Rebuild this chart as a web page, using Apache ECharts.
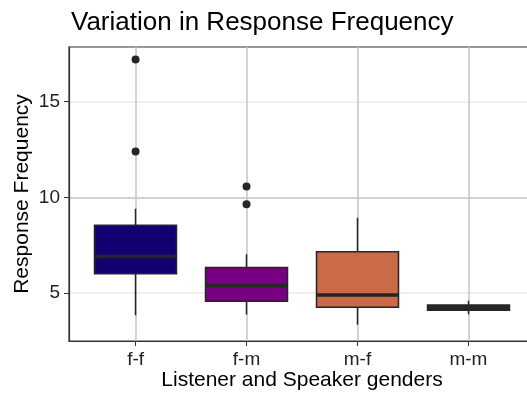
<!DOCTYPE html>
<html>
<head>
<meta charset="utf-8">
<script src="https://cdn.jsdelivr.net/npm/echarts@6/dist/echarts.min.js"></script>
<style>
  html, body { margin: 0; padding: 0; background: #fff; }
  #chart { width: 527px; height: 393px; }
</style>
</head>
<body>
<div id="chart"></div>
<script>
// categories along x (positions 1..4)
const groups = ['f-f', 'f-m', 'm-f', 'm-m']
const fills = ['#130070', '#780082', '#c96a48', '#2a2a2a']
// box stats: lower whisker, Q1, median, Q3, upper whisker
const lowWhisker = [3.85, 3.89, 3.35, 3.9]
const q1 = [6.01, 4.57, 4.26, 4.1]
const medians = [6.91, 5.4, 4.9, 4.22]
const q3 = [8.54, 6.34, 7.16, 4.38]
const highWhisker = [9.41, 7.03, 8.93, 4.6]
// outliers: [group position, value]
const outliers = [[1, 17.2], [1, 12.4], [2, 10.57], [2, 9.64]]
const yTicks = [5, 10, 15]

const ink = '#262626'

var chart = echarts.init(document.getElementById('chart'))

const boxData = groups.map((g, i) => ({
  value: [i + 1, q1[i], q3[i], lowWhisker[i], highWhisker[i]],
  itemStyle: {
    color: fills[i],
    color0: fills[i],
    borderColor: ink,
    borderColor0: ink,
    borderColorDoji: ink
  }
}))
const medianData = groups.map((g, i) => [i + 1, medians[i], medians[i], medians[i], medians[i]])

const option = {
  animation: false,
  title: {
    text: 'Variation in Response Frequency',
    left: 66,
    top: 5,
    textStyle: {
      fontFamily: 'Liberation Sans',
      fontSize: 26,
      fontWeight: 'normal',
      color: '#000'
    }
  },
  grid: {
    left: 69,
    right: -8,
    top: 47,
    bottom: 52,
    show: true,
    borderColor: '#333',
    borderWidth: 1.2,
    outerBoundsMode: 'none',
    containLabel: false
  },
  xAxis: {
    type: 'value',
    min: 0.4,
    max: 4.6,
    splitNumber: 4,
    name: 'Listener and Speaker genders',
    nameLocation: 'middle',
    nameGap: 29,
    nameMoveOverlap: false,
    nameTextStyle: { fontFamily: 'Liberation Sans', fontSize: 21, color: '#000' },
    axisLine: { show: true, onZero: false, lineStyle: { color: '#333', width: 1.2 } },
    axisTick: { show: true, length: 5, customValues: [1, 2, 3, 4], lineStyle: { color: '#333' } },
    axisLabel: {
      customValues: [1, 2, 3, 4],
      margin: 9,
      fontFamily: 'Liberation Sans',
      fontSize: 19,
      color: '#222',
      formatter: v => groups[Math.round(v) - 1] || ''
    },
    splitLine: { show: true, lineStyle: { color: '#c4c4c4', width: 1.5 } }
  },
  yAxis: {
    type: 'value',
    min: 2.5,
    max: 17.85,
    interval: 2.5,
    name: 'Response Frequency',
    nameLocation: 'middle',
    nameGap: 36,
    nameMoveOverlap: false,
    nameTextStyle: { fontFamily: 'Liberation Sans', fontSize: 21, color: '#000' },
    axisLine: { show: true, onZero: false, lineStyle: { color: '#333', width: 1.2 } },
    axisTick: { show: true, length: 5, customValues: yTicks, lineStyle: { color: '#333' } },
    axisLabel: {
      customValues: yTicks,
      margin: 9,
      fontFamily: 'Liberation Sans',
      fontSize: 19,
      color: '#222',
      formatter: v => (v % 5 === 0 ? String(v) : '')
    },
    splitLine: { show: true, lineStyle: { color: ['#ebebeb', '#c4c4c4'], width: 1.5 } }
  },
  series: [
    {
      name: 'box',
      type: 'candlestick',
      barWidth: 83,
      itemStyle: { borderWidth: 1.5 },
      data: boxData
    },
    {
      name: 'median',
      type: 'candlestick',
      barWidth: 83,
      itemStyle: {
        color: ink,
        color0: ink,
        borderColor: ink,
        borderColor0: ink,
        borderColorDoji: ink,
        borderWidth: 3.5
      },
      data: medianData
    },
    {
      name: 'outliers',
      type: 'scatter',
      symbolSize: 8,
      itemStyle: { color: ink, opacity: 1 },
      data: outliers
    }
  ]
}
chart.setOption(option)
</script>
</body>
</html>
